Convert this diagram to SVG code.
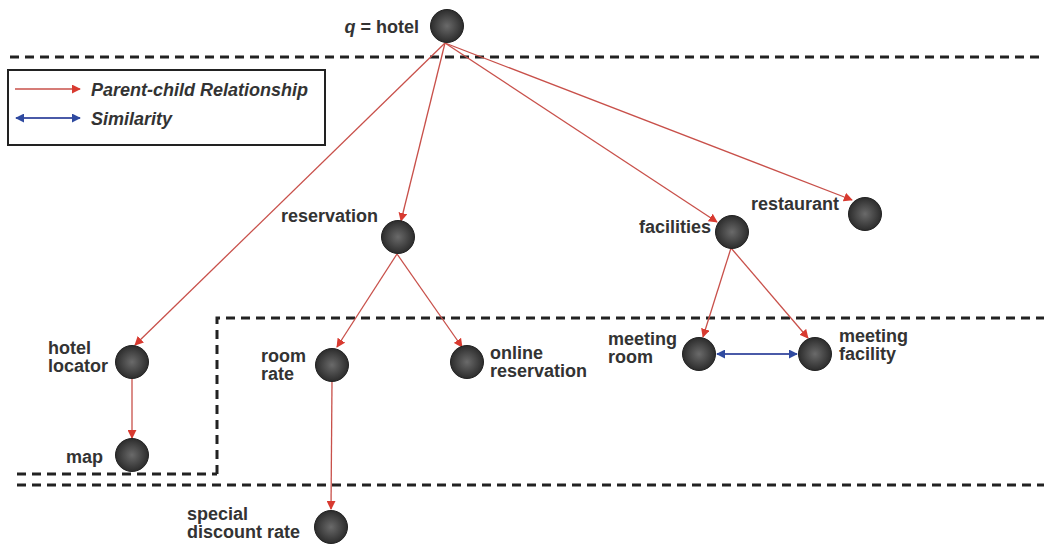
<svg xmlns="http://www.w3.org/2000/svg" width="1044" height="545" viewBox="0 0 1044 545">
<style>
.lbl{font-family:"Liberation Sans",Arial,sans-serif;font-weight:bold;font-size:18px;fill:#333}
.leg{font-family:"Liberation Sans",Arial,sans-serif;font-weight:bold;font-style:italic;font-size:18px;fill:#333}
.dash{stroke:#222;stroke-width:3;stroke-dasharray:9,6;fill:none}
.pc{stroke:#c8504a;stroke-width:1.3;fill:none;marker-end:url(#ar)}
.sim{stroke:#4a5aa8;stroke-width:1.8;fill:none;marker-end:url(#ab);marker-start:url(#abs)}
.node{fill:url(#g);stroke:#222;stroke-width:1}
</style>
<defs>
<radialGradient id="g" cx="50%" cy="50%" r="55%">
<stop offset="0" stop-color="#6a6a6a"/>
<stop offset="1" stop-color="#262626"/>
</radialGradient>
<marker id="ar" viewBox="0 0 10 10" refX="9" refY="5" markerWidth="9" markerHeight="9" markerUnits="userSpaceOnUse" orient="auto"><path d="M0,0 L10,5 L0,10 z" fill="#d83a30"/></marker>
<marker id="ab" viewBox="0 0 10 10" refX="9" refY="5" markerWidth="9" markerHeight="9" markerUnits="userSpaceOnUse" orient="auto"><path d="M0,0 L10,5 L0,10 z" fill="#2f4aa0"/></marker>
<marker id="abs" viewBox="0 0 10 10" refX="1" refY="5" markerWidth="9" markerHeight="9" markerUnits="userSpaceOnUse" orient="auto"><path d="M10,0 L0,5 L10,10 z" fill="#2f4aa0"/></marker>
</defs>
<rect width="1044" height="545" fill="#fff"/>
<g id="boundaries">
<line class="dash" x1="10" y1="57" x2="1044" y2="57"/>
<polyline class="dash" points="217,474 217,318 1044,318"/>
<line class="dash" x1="17" y1="474" x2="217" y2="474"/>
<line class="dash" x1="17" y1="485" x2="1044" y2="485"/>
</g>
<g id="legend">
<rect x="8" y="70" width="317" height="75" fill="#fff" stroke="#222" stroke-width="2"/>
<line x1="15" y1="89" x2="80" y2="89" stroke="#c8504a" stroke-width="1.5" marker-end="url(#ar)"/>
<text class="leg" x="91" y="96">Parent-child Relationship</text>
<line class="sim" x1="16" y1="118" x2="80" y2="118"/>
<text class="leg" x="91" y="125">Similarity</text>
</g>
<g id="connectors">
<line class="pc" x1="445" y1="43" x2="135" y2="345"/>
<line class="pc" x1="445" y1="43" x2="401" y2="221"/>
<line class="pc" x1="445" y1="43" x2="717" y2="222"/>
<line class="pc" x1="445" y1="43" x2="852" y2="200"/>
<line class="pc" x1="397" y1="254" x2="337" y2="347"/>
<line class="pc" x1="397" y1="254" x2="462" y2="347"/>
<line class="pc" x1="731" y1="248" x2="703" y2="337"/>
<line class="pc" x1="731" y1="248" x2="808" y2="338"/>
<line class="pc" x1="132" y1="379" x2="132" y2="438"/>
<line class="pc" x1="332" y1="381" x2="331" y2="509"/>
<line class="sim" x1="717" y1="354" x2="797" y2="354"/>
</g>
<g id="n-hotel"><circle class="node" cx="447" cy="26" r="16.5"/><text class="lbl" x="419" y="33" text-anchor="end"><tspan font-style="italic">q</tspan> = hotel</text></g>
<g id="n-reservation"><circle class="node" cx="398" cy="237" r="16.5"/><text class="lbl" x="378" y="222" text-anchor="end">reservation</text></g>
<g id="n-facilities"><circle class="node" cx="732" cy="232" r="16.5"/><text class="lbl" x="711" y="233" text-anchor="end">facilities</text></g>
<g id="n-restaurant"><circle class="node" cx="865" cy="214" r="16.5"/><text class="lbl" x="839" y="210" text-anchor="end">restaurant</text></g>
<g id="n-hotel-locator"><circle class="node" cx="132" cy="362" r="16.5"/><text class="lbl" x="48" y="354">hotel</text><text class="lbl" x="48" y="372">locator</text></g>
<g id="n-map"><circle class="node" cx="132" cy="455" r="16.5"/><text class="lbl" x="103" y="463" text-anchor="end">map</text></g>
<g id="n-room-rate"><circle class="node" cx="332" cy="365" r="16.5"/><text class="lbl" x="261" y="362">room</text><text class="lbl" x="261" y="380">rate</text></g>
<g id="n-online-reservation"><circle class="node" cx="467" cy="362" r="16.5"/><text class="lbl" x="490" y="359">online</text><text class="lbl" x="490" y="377">reservation</text></g>
<g id="n-meeting-room"><circle class="node" cx="699" cy="354" r="16.5"/><text class="lbl" x="608" y="345">meeting</text><text class="lbl" x="608" y="363">room</text></g>
<g id="n-meeting-facility"><circle class="node" cx="815" cy="354" r="16.5"/><text class="lbl" x="839" y="342">meeting</text><text class="lbl" x="839" y="360">facility</text></g>
<g id="n-special-discount-rate"><circle class="node" cx="331" cy="527" r="16.5"/><text class="lbl" x="187" y="520">special</text><text class="lbl" x="187" y="538">discount rate</text></g>
</svg>
